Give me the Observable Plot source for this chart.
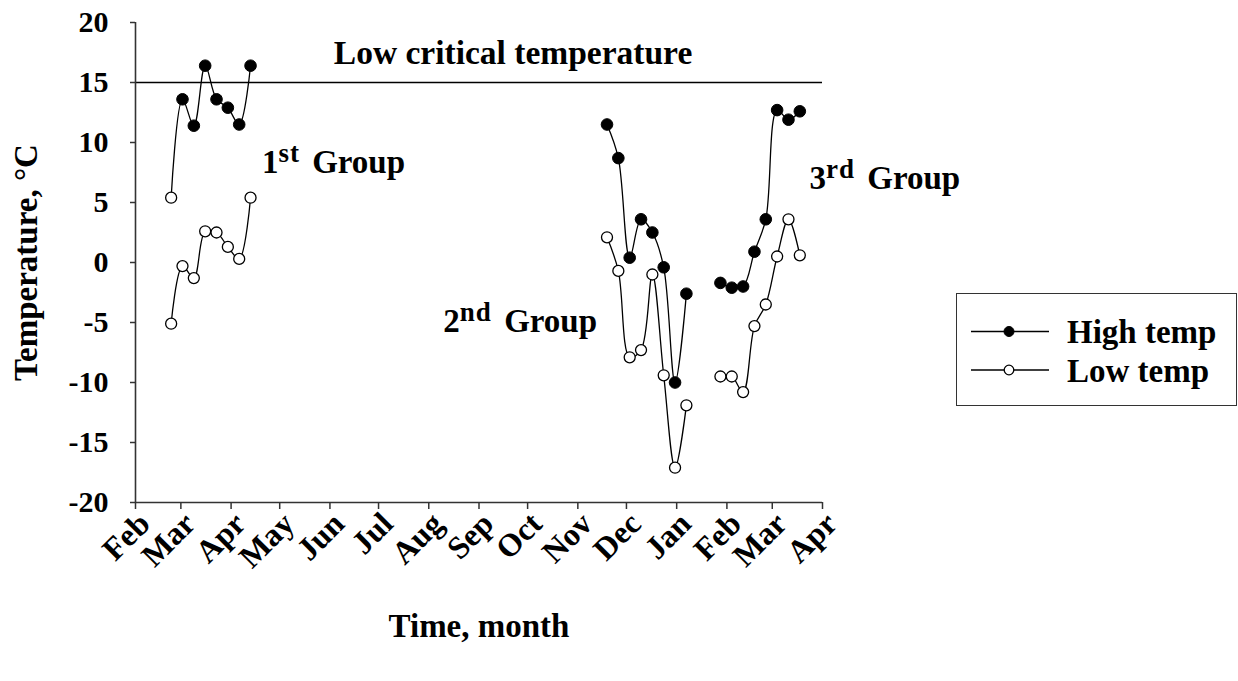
<!DOCTYPE html>
<html>
<head>
<meta charset="utf-8">
<script src="https://cdn.jsdelivr.net/npm/d3@7"></script>
<script src="https://cdn.jsdelivr.net/npm/@observablehq/plot@0.6"></script>
<style>
  body { margin: 0; background: #fff; }
  #wrap { position: relative; width: 1238px; height: 681px; font-family: "Liberation Serif", "Times New Roman", serif; }
  #legend { position: absolute; left: 956px; top: 293px; width: 281px; height: 113px; border: 1.5px solid #333; box-sizing: border-box; background: #fff; }
  #legend svg { position: absolute; left: 0; top: 0; }
</style>
</head>
<body>
<div id="wrap"></div>
<script>
// ---------- data ----------
const group1Dates = ["2001-02-23","2001-03-02","2001-03-09","2001-03-16","2001-03-23","2001-03-30","2001-04-06","2001-04-13"];
const group1High  = [5.4, 13.6, 11.4, 16.4, 13.6, 12.9, 11.5, 16.4];
const group1HighFilled = [false, true, true, true, true, true, true, true];
const group1Low   = [-5.1, -0.3, -1.3, 2.6, 2.5, 1.3, 0.3, 5.4];

const group2Dates = ["2001-11-19","2001-11-26","2001-12-03","2001-12-10","2001-12-17","2001-12-24","2001-12-31","2002-01-07"];
const group2High  = [11.5, 8.7, 0.4, 3.6, 2.5, -0.4, -10.0, -2.6];
const group2Low   = [2.1, -0.7, -7.9, -7.3, -1.0, -9.4, -17.1, -11.9];

const group3Dates = ["2002-01-28","2002-02-04","2002-02-11","2002-02-18","2002-02-25","2002-03-04","2002-03-11","2002-03-18"];
const group3High  = [-1.7, -2.1, -2.0, 0.9, 3.6, 12.7, 11.9, 12.6];
const group3Low   = [-9.5, -9.5, -10.8, -5.3, -3.5, 0.5, 3.6, 0.6];

const criticalTemp = 15;
const criticalLabel = "Low critical temperature";

const monthTicks  = ["2001-02-01","2001-03-01","2001-04-01","2001-05-01","2001-06-01","2001-07-01","2001-08-01","2001-09-01","2001-10-01","2001-11-01","2001-12-01","2002-01-01","2002-02-01","2002-03-01","2002-04-01"];
const monthLabels = ["Feb","Mar","Apr","May","Jun","Jul","Aug","Sep","Oct","Nov","Dec","Jan","Feb","Mar","Apr"];
const yTicks      = [-20, -15, -10, -5, 0, 5, 10, 15, 20];
const yTickLabels = ["-20","-15","-10","-5","0","5","10","15","20"];

const groupLabelNums = ["1", "2", "3"];
const groupLabelSups = ["st", "nd", "rd"];
const groupLabelDates = ["2001-04-20", "2001-08-10", "2002-03-24"];
const groupLabelValues = [8.3, -4.9, 7.0];

const xTitle = "Time, month";
const yTitle = "Temperature, \u00B0C";
const seriesNames = ["High temp", "Low temp"];

// ---------- build table ----------
const parse = d3.utcParse("%Y-%m-%d");
const rows = [];
function addGroup(g, dates, high, low, highFilled) {
  dates.forEach((d, i) => {
    rows.push({group: g, series: seriesNames[0], date: parse(d), value: high[i], filled: highFilled ? highFilled[i] : true});
  });
  dates.forEach((d, i) => {
    rows.push({group: g, series: seriesNames[1], date: parse(d), value: low[i], filled: false});
  });
}
addGroup(1, group1Dates, group1High, group1Low, group1HighFilled);
addGroup(2, group2Dates, group2High, group2Low, null);
addGroup(3, group3Dates, group3High, group3Low, null);

const tickDates = monthTicks.map(parse);
const groupLabels = groupLabelNums.map((n, i) => ({num: n, sup: groupLabelSups[i], date: parse(groupLabelDates[i]), value: groupLabelValues[i]}));

const FONT = '"Liberation Serif", "Times New Roman", serif';

const chart = Plot.plot({
  width: 1238,
  height: 681,
  marginLeft: 135,
  marginRight: 416,
  marginTop: 22,
  marginBottom: 179,
  style: {fontFamily: FONT, fontWeight: "bold", color: "black", background: "white", overflow: "visible"},
  x: {type: "utc", domain: [tickDates[0], tickDates[tickDates.length - 1]]},
  y: {domain: [-20, 20]},
  marks: [
    Plot.ruleY([criticalTemp], {stroke: "black", strokeWidth: 1.3}),
    Plot.ruleX([tickDates[0]], {y1: -20, y2: 20, stroke: "#333", strokeWidth: 1.6}),
    Plot.ruleY([-20], {stroke: "#333", strokeWidth: 1.6}),
    Plot.axisY(yTicks, {
      tickSize: 5, tickPadding: 22, fontSize: 30, fontWeight: "bold", stroke: "#333", strokeWidth: 1.5,
      tickFormat: d => yTickLabels[yTicks.indexOf(d)], label: null
    }),
    // x tick marks
    Plot.axisX(tickDates, {tickSize: 7, stroke: "#333", strokeWidth: 1.5, tickFormat: () => "", label: null}),
    // x tick labels (rotated)
    Plot.axisX(tickDates, {
      tickSize: 0, tickPadding: 16, dx: 9, tickRotate: -45, fontSize: 32, fontWeight: "bold",
      tickFormat: d => monthLabels[tickDates.findIndex(t => +t === +d)], label: null
    }),
    Plot.line(rows, {x: "date", y: "value", z: d => d.group + d.series, curve: "catmull-rom", stroke: "black", strokeWidth: 1.3}),
    Plot.dot(rows.filter(d => !d.filled), {x: "date", y: "value", r: 5.5, fill: "white", stroke: "black", strokeWidth: 1.3}),
    Plot.dot(rows.filter(d => d.filled), {x: "date", y: "value", r: 5.8, fill: "black", stroke: "black", strokeWidth: 1}),
    Plot.text([criticalLabel], {x: () => parse("2001-09-22"), y: () => 17.45, text: d => d, fontSize: 33.5, fontWeight: "bold", textAnchor: "middle"}),
    Plot.text(groupLabels, {x: "date", y: "value", text: "num", fontSize: 33, fontWeight: "bold", textAnchor: "start", className: "grouplabel"}),
    Plot.text([xTitle], {frameAnchor: "bottom", dy: 124, text: d => d, fontSize: 33, fontWeight: "bold", textAnchor: "middle", lineAnchor: "middle"}),
    Plot.text([yTitle], {frameAnchor: "left", dx: -109, rotate: -90, text: d => d, fontSize: 33, fontWeight: "bold", textAnchor: "middle", lineAnchor: "middle"})
  ]
});

// superscripts for group labels (kept as real text)
d3.select(chart).selectAll(".grouplabel text").each(function(_, i) {
  const t = d3.select(this);
  const g = groupLabels[i];
  t.text(null);
  t.append("tspan").text(g.num);
  t.append("tspan").attr("dy", -11).attr("font-size", 27).attr("letter-spacing", 1).text(g.sup);
  t.append("tspan").attr("dy", 11).attr("dx", 4).text(" Group");
});

document.getElementById("wrap").appendChild(chart);

// legend
const legend = document.createElement("div");
legend.id = "legend";
legend.innerHTML = `<svg width="281" height="113" font-family='${FONT}' font-weight="bold">
  <line x1="14" x2="92" y1="37.5" y2="37.5" stroke="black" stroke-width="1.3"/>
  <circle cx="52" cy="37.5" r="5" fill="black" stroke="black"/>
  <text x="110" y="49" font-size="33">${seriesNames[0]}</text>
  <line x1="14" x2="92" y1="76" y2="76" stroke="black" stroke-width="1.3"/>
  <circle cx="52" cy="76" r="4.8" fill="white" stroke="black" stroke-width="1.3"/>
  <text x="110" y="88" font-size="33">${seriesNames[1]}</text>
</svg>`;
document.getElementById("wrap").appendChild(legend);
</script>
</body>
</html>
